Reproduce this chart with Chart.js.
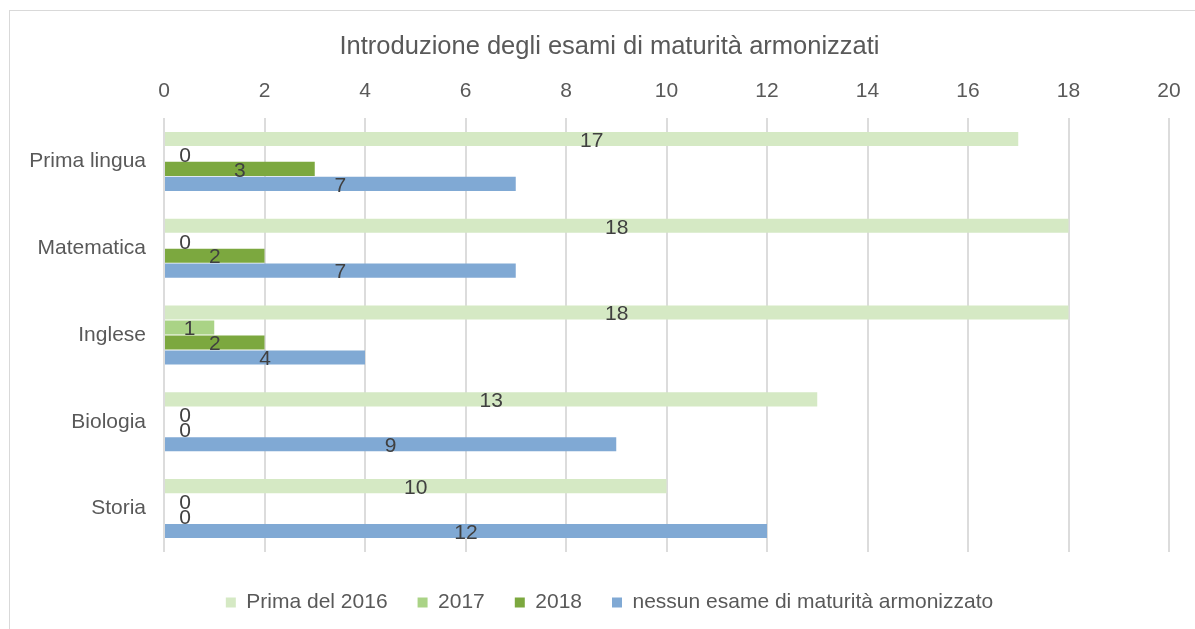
<!DOCTYPE html>
<html>
<head>
<meta charset="utf-8">
<script src="https://cdn.jsdelivr.net/npm/chart.js@4"></script>
<style>
    html, body { margin: 0; padding: 0; background: #fff; overflow: hidden; }
    #frame {
        position: absolute; left: 9px; top: 10px;
        width: 1300px; height: 700px;
        border: 1px solid #d9d9d9;
    }
    #wrap { position: absolute; left: 0; top: 0; width: 1195px; height: 629px; }
</style>
</head>
<body>
<div id="frame"></div>
<div id="wrap"><canvas id="chart"></canvas></div>
<script>
// Chart data
const categories = ['Prima lingua', 'Matematica', 'Inglese', 'Biologia', 'Storia'];
const seriesNames = ['Prima del 2016', '2017', '2018', 'nessun esame di maturità armonizzato'];
const before2016 = [17, 18, 18, 13, 10];
const year2017 = [0, 0, 1, 0, 0];
const year2018 = [3, 2, 2, 0, 0];
const noExam = [7, 7, 4, 9, 12];
const xTicks = [0, 2, 4, 6, 8, 10, 12, 14, 16, 18, 20];

const colors = ['#d5e9c4', '#aad386', '#7ca83f', '#80a9d4'];
const textColor = '#595959';
const fontFamily = '"Liberation Sans", Arial, sans-serif';

// Draw value labels in the middle of each bar (zero values just right of the axis)
const barLabels = {
    id: 'barLabels',
    afterDatasetsDraw(chart) {
        const ctx = chart.ctx;
        ctx.save();
        ctx.font = '21px ' + fontFamily;
        ctx.fillStyle = '#404040';
        ctx.textAlign = 'center';
        ctx.textBaseline = 'middle';
        chart.data.datasets.forEach((ds, i) => {
            chart.getDatasetMeta(i).data.forEach((bar, j) => {
                const v = ds.data[j];
                const x = v === 0 ? bar.base + 21 : (bar.x + bar.base) / 2;
                ctx.fillText(String(v), x, bar.y + 2);
            });
        });
        ctx.restore();
    }
};

// Let the category labels extend into the left padding instead of being clipped
const widenYLabels = {
    id: 'widenYLabels',
    afterLayout(chart) {
        chart.scales.y.left = 0;
    }
};

const ctx = document.getElementById('chart');
new Chart(ctx, {
    type: 'bar',
    data: {
        labels: categories,
        datasets: [before2016, year2017, year2018, noExam].map((d, i) => ({
            label: seriesNames[i],
            data: d,
            backgroundColor: colors[i],
            borderWidth: 0,
            categoryPercentage: 0.69,
            barPercentage: 0.94
        }))
    },
    options: {
        indexAxis: 'y',
        responsive: true,
        maintainAspectRatio: false,
        animation: false,
        layout: {
            padding: { left: 50, right: 26, top: 0, bottom: 6 }
        },
        plugins: {
            title: {
                display: true,
                text: 'Introduzione degli esami di maturità armonizzati',
                color: textColor,
                font: { family: fontFamily, size: 25.5, weight: 'normal' },
                padding: { top: 32, bottom: 0 }
            },
            legend: {
                position: 'bottom',
                labels: {
                    color: textColor,
                    font: { family: fontFamily, size: 21 },
                    boxWidth: 10,
                    boxHeight: 10,
                    padding: 30
                }
            },
            tooltip: { enabled: false }
        },
        scales: {
            x: {
                position: 'top',
                min: 0,
                max: 20,
                afterBuildTicks: (scale) => {
                    scale.ticks = xTicks.map(v => ({ value: v }));
                },
                afterFit: (scale) => { scale.height = 55.4; },
                grid: { color: '#dcdcdc', lineWidth: 2, drawTicks: false },
                border: { display: false },
                ticks: {
                    color: textColor,
                    font: { family: fontFamily, size: 21 },
                    padding: 14
                }
            },
            // empty strip between the plot and the legend
            xGap: {
                position: 'bottom',
                display: true,
                afterFit: (scale) => { scale.height = 10; },
                grid: { display: false, drawTicks: false },
                border: { display: false },
                ticks: { display: false }
            },
            y: {
                afterFit: (scale) => { scale.width = 114; },
                grid: { display: false, drawTicks: false },
                border: { display: false },
                ticks: {
                    color: textColor,
                    font: { family: fontFamily, size: 21 },
                    padding: 18
                }
            }
        }
    },
    plugins: [barLabels, widenYLabels]
});
</script>
</body>
</html>
